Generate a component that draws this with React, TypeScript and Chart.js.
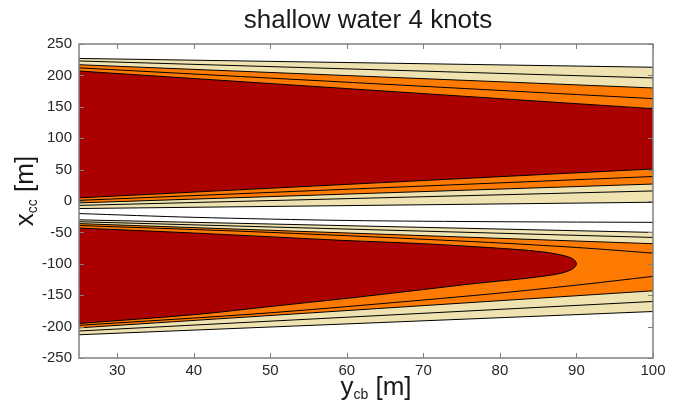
import React, { useEffect, useRef } from 'react';
import { Chart, registerables } from 'chart.js';
Chart.register(...registerables);

// x positions (y_cb) for straight contour lines
const xEdges = [25, 100];
// upper lobe contour lines: values of x_cc at y_cb = 25 and 100
const upTop1 = [227, 213];
const upTop2 = [223, 196];
const upTop3 = [217, 180];
const upTop4 = [212, 163];
const upTop5 = [207, 147];
const upBot5 = [5, 51];
const upBot4 = [1, 39];
const upBot3 = [-3, 27];
const upBot2 = [-7, 16];
const upBot1 = [-12, -2];
// contour line in the white gap between the lobes
const gapX = [25, 40, 60, 80, 100];
const gapY = [-20, -26, -31, -33, -34];
// lower lobe contour lines
const loTop1 = [-30, -50];
const loTop2 = [-33, -58];
const loTop3 = [-36, -68];
const lo4X = [25, 50, 77, 90, 100];
const loTop4 = [-39, -50, -65, -74, -83];
const loBot4 = [-198, -178, -150, -134, -120];
const loBot3 = [-202, -143];
const loBot2 = [-207, -160];
const loBot1 = [-213, -176];
// lower lobe closed red core
const coreX = [25, 40, 50, 60, 70, 77, 82, 85.5, 88, 89.5, 90, 89.5, 88, 85.5, 82, 77, 70, 60, 50, 40, 25];
const coreY = [-43, -51, -57, -63, -68, -73, -77, -81, -86, -92, -100, -108, -115, -120, -125, -131, -141, -155, -168, -181, -195];

const xTicks = [30, 40, 50, 60, 70, 80, 90, 100];
const yTicks = [-250, -200, -150, -100, -50, 0, 50, 100, 150, 200, 250];

const YELLOW = '#EFE3B1';
const ORANGE = '#FF7A00';
const RED = '#AA0000';

const pts = (xs: number[], ys: number[]) => xs.map((x, i) => ({ x, y: ys[i] }));
const band = (top: number[], bot: number[]) => [...pts(xEdges, top), ...pts(xEdges, bot).reverse()];

const fillDs = (data: any[], color: string, tension = 0) => ({
  data, showLine: true, fill: 'shape', backgroundColor: color, borderWidth: 0, pointRadius: 0, tension,
});
const lineDs = (data: any[], tension = 0) => ({
  data, showLine: true, fill: false, borderColor: '#000', borderWidth: 1, pointRadius: 0, tension,
});

function drawParts(ctx: CanvasRenderingContext2D, parts: { t: string; s: number; dy: number }[], cx: number, by: number) {
  let total = 0;
  for (const p of parts) { ctx.font = `${p.s}px "Liberation Sans", Arial, sans-serif`; total += ctx.measureText(p.t).width; }
  let x = cx - total / 2;
  ctx.textAlign = 'left';
  ctx.textBaseline = 'alphabetic';
  for (const p of parts) {
    ctx.font = `${p.s}px "Liberation Sans", Arial, sans-serif`;
    ctx.fillText(p.t, x, by + p.dy);
    x += ctx.measureText(p.t).width;
  }
}

const framePlugin = {
  id: 'frame',
  afterDraw(chart: any) {
    const { ctx, chartArea: a, scales } = chart;
    ctx.save();
    ctx.strokeStyle = '#808080';
    ctx.lineWidth = 1.5;
    ctx.strokeRect(a.left, a.top, a.right - a.left, a.bottom - a.top);
    ctx.lineWidth = 1;
    const tl = 5;
    ctx.beginPath();
    for (const v of xTicks) {
      const px = Math.round(scales.x.getPixelForValue(v)) + 0.5;
      ctx.moveTo(px, a.bottom); ctx.lineTo(px, a.bottom - tl);
      ctx.moveTo(px, a.top); ctx.lineTo(px, a.top + tl);
    }
    for (const v of yTicks) {
      const py = Math.round(scales.y.getPixelForValue(v)) + 0.5;
      ctx.moveTo(a.left, py); ctx.lineTo(a.left + tl, py);
      ctx.moveTo(a.right, py); ctx.lineTo(a.right - tl, py);
    }
    ctx.stroke();
    ctx.fillStyle = '#1a1a1a';
    ctx.font = '26px "Liberation Sans", Arial, sans-serif';
    ctx.textAlign = 'center';
    ctx.textBaseline = 'alphabetic';
    ctx.fillText('shallow water 4 knots', 368, 28);
    drawParts(ctx, [{ t: 'y', s: 26, dy: 0 }, { t: 'cb', s: 14, dy: 4 }, { t: ' [m]', s: 26, dy: 0 }], 376, 395);
    ctx.translate(33, 191);
    ctx.rotate(-Math.PI / 2);
    drawParts(ctx, [{ t: 'x', s: 26, dy: 0 }, { t: 'cc', s: 14, dy: 4 }, { t: ' [m]', s: 26, dy: 0 }], 0, 0);
    ctx.restore();
  },
};

export default function App() {
  const ref = useRef<HTMLCanvasElement>(null);
  useEffect(() => {
    document.body.style.margin = '0';
    const painter = [
      fillDs(band(upTop1, upBot1), YELLOW),
      fillDs(band(upTop3, upBot3), ORANGE),
      fillDs(band(upTop5, upBot5), RED),
      fillDs(band(loTop1, loBot1), YELLOW),
      fillDs(band(loTop3, loBot3), ORANGE),
      fillDs(pts(coreX, coreY), RED, 0.35),
      lineDs(pts(xEdges, upTop1)), lineDs(pts(xEdges, upTop2)), lineDs(pts(xEdges, upTop3)),
      lineDs(pts(xEdges, upTop4)), lineDs(pts(xEdges, upTop5)),
      lineDs(pts(xEdges, upBot5)), lineDs(pts(xEdges, upBot4)), lineDs(pts(xEdges, upBot3)),
      lineDs(pts(xEdges, upBot2)), lineDs(pts(xEdges, upBot1)),
      lineDs(pts(gapX, gapY), 0.3),
      lineDs(pts(xEdges, loTop1)), lineDs(pts(xEdges, loTop2)), lineDs(pts(xEdges, loTop3)),
      lineDs(pts(lo4X, loTop4), 0.3), lineDs(pts(lo4X, loBot4), 0.3),
      lineDs(pts(xEdges, loBot3)), lineDs(pts(xEdges, loBot2)), lineDs(pts(xEdges, loBot1)),
      lineDs(pts(coreX, coreY), 0.35),
    ];
    const datasets = painter.reverse();
    const tickFont = { family: '"Liberation Sans", Arial, sans-serif', size: 15 };
    const chart = new Chart(ref.current!, {
      type: 'scatter',
      data: { datasets: datasets as any },
      plugins: [framePlugin],
      options: {
        animation: false,
        responsive: false,
        devicePixelRatio: 1,
        events: [],
        layout: { padding: { top: 44, right: 29, left: 0, bottom: 0 } },
        plugins: { legend: { display: false }, tooltip: { enabled: false }, title: { display: false } },
        scales: {
          x: {
            type: 'linear', min: 25, max: 100, position: 'bottom',
            grid: { display: false, drawTicks: false }, border: { display: false },
            ticks: { font: tickFont, color: '#262626', padding: 4, maxRotation: 0 },
            afterBuildTicks: (s: any) => { s.ticks = xTicks.map((v) => ({ value: v })); },
            afterFit: (s: any) => { s.height = 45; },
          },
          y: {
            type: 'linear', min: -250, max: 250,
            grid: { display: false, drawTicks: false }, border: { display: false },
            ticks: { font: tickFont, color: '#262626', padding: 7 },
            afterBuildTicks: (s: any) => { s.ticks = yTicks.map((v) => ({ value: v })); },
            afterFit: (s: any) => { s.width = 79; },
          },
        },
      } as any,
    });
    return () => chart.destroy();
  }, []);
  return (
    <div style={{ width: 682, height: 403 }}>
      <canvas ref={ref} width={682} height={403} />
    </div>
  );
}
